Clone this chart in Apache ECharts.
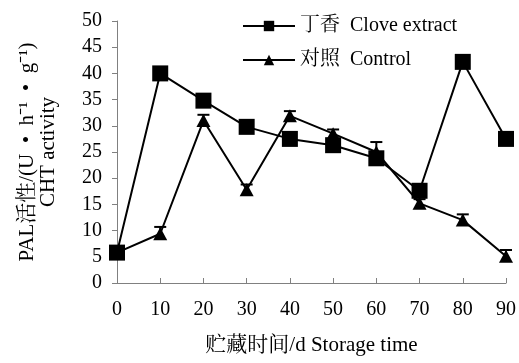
<!DOCTYPE html>
<html><head><meta charset="utf-8">
<script src="https://cdn.jsdelivr.net/npm/echarts@6/dist/echarts.min.js"></script>
<style>html,body{margin:0;padding:0;background:#fff}#c{width:519px;height:363px}</style>
</head><body><div id="c"></div>
<script>
var days = [0, 10, 20, 30, 40, 50, 60, 70, 80, 90];
var clove = [5.8, 40, 34.8, 29.8, 27.5, 26.3, 23.8, 17.6, 42.2, 27.5];
var control = [5.8, 9.4, 31, 17.8, 31.9, 28.5, 25, 15.2, 12, 5.1];
var controlErr = [0, 1.3, 1.1, 1.0, 0.9, 0.8, 1.9, 0.8, 1.1, 1.2];
var yTicks = [0, 5, 10, 15, 20, 25, 30, 35, 40, 45, 50];
var seriesNames = ['丁香  Clove extract', '对照  Control'];
var xName = '贮藏时间/d Storage time';
var yName = 'PAL活性/(U  •  h\u207B\u00B9  •  g\u207B\u00B9)\nCHT activity';

var FONT = "'Liberation Serif', 'Noto Serif CJK SC', 'Noto Sans CJK SC', serif";
var chart = echarts.init(document.getElementById('c'));
function pairs(ys){ return days.map(function(d,i){ return [d, ys[i]]; }); }
var errData = days.map(function(d,i){ return [d, control[i], control[i] + controlErr[i]]; });

chart.setOption({
  animation: false,
  backgroundColor: '#fff',
  textStyle: { fontFamily: FONT, color: '#000' },
  grid: { left: 117, right: 12, top: 21, bottom: 80, containLabel: false },
  legend: {
    orient: 'vertical', left: 237, top: 11, itemGap: 14,
    itemWidth: 52, itemHeight: 13,
    textStyle: { fontFamily: FONT, fontSize: 20, color: '#000' },
    data: seriesNames
  },
  xAxis: {
    type: 'value', min: 0, max: 90, interval: 10,
    name: xName, nameLocation: 'middle', nameGap: 52,
    nameTextStyle: { fontFamily: FONT, fontSize: 21, color: '#000' },
    axisLine: { lineStyle: { color: '#808080', width: 1 } },
    axisTick: { inside: true, length: 5, lineStyle: { color: '#808080' } },
    axisLabel: { margin: 17, fontFamily: FONT, fontSize: 20, color: '#000' },
    splitLine: { show: false }
  },
  yAxis: {
    type: 'value', min: yTicks[0], max: yTicks[yTicks.length-1], interval: 5,
    name: yName, nameLocation: 'middle', nameGap: 58, nameRotate: 90,
    nameTextStyle: { fontFamily: FONT, fontSize: 21, color: '#000', lineHeight: 21 },
    axisLine: { show: true, lineStyle: { color: '#808080', width: 1 } },
    axisTick: { show: true, inside: false, length: 5, lineStyle: { color: '#808080' } },
    axisLabel: { margin: 15, fontFamily: FONT, fontSize: 20, color: '#000' },
    splitLine: { show: false }
  },
  series: [
    {
      type: 'custom', name: 'err', z: 1, silent: true,
      data: errData,
      renderItem: function(params, api){
        var p0 = api.coord([api.value(0), api.value(1)]);
        var p1 = api.coord([api.value(0), api.value(2)]);
        return { type: 'group', children: [
          { type: 'line', shape: { x1: p0[0], y1: p0[1], x2: p1[0], y2: p1[1] }, style: { stroke: '#000', lineWidth: 2 } },
          { type: 'line', shape: { x1: p1[0]-6, y1: p1[1], x2: p1[0]+6, y2: p1[1] }, style: { stroke: '#000', lineWidth: 2 } }
        ]};
      }
    },
    {
      type: 'line', name: seriesNames[1], z: 3, data: pairs(control),
      symbol: 'triangle', symbolSize: [14, 13],
      lineStyle: { color: '#000', width: 2 }, itemStyle: { color: '#000' }
    },
    {
      type: 'line', name: seriesNames[0], z: 4, data: pairs(clove),
      symbol: 'rect', symbolSize: 16,
      lineStyle: { color: '#000', width: 2 }, itemStyle: { color: '#000' }
    }
  ]
});
</script></body></html>
